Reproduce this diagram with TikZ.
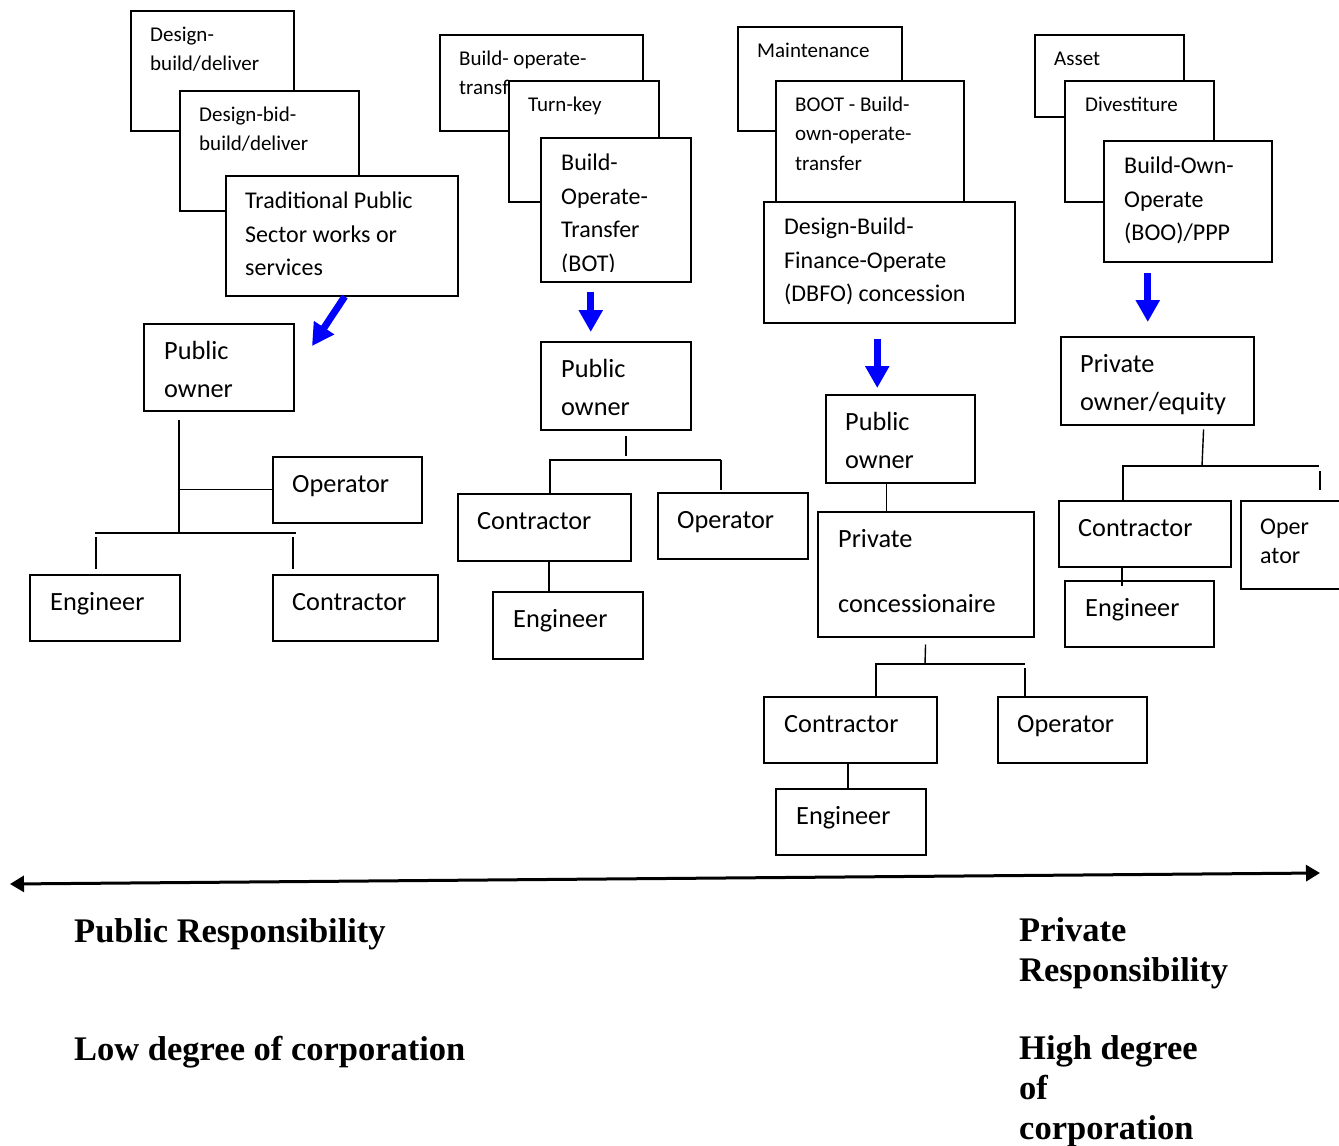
\documentclass[tikz,border=0pt]{standalone}
\usepackage{fontspec}
\setmainfont{Carlito}
\newfontfamily\timesfont{Liberation Serif}
\usetikzlibrary{positioning,arrows.meta}

\tikzset{
  box/.style={draw, fill=white, line width=1.5pt, anchor=north west, inner sep=0pt},
  sz/.style 2 args={minimum width=#1pt, minimum height=#2pt},
  tsmall/.style={inner sep=0pt, align=left, font=\fontsize{21}{29.5}\selectfont, execute at begin node=\strut},
  tmid/.style={inner sep=0pt, align=left, font=\fontsize{24}{33.5}\selectfont, execute at begin node=\strut},
  tbig/.style={inner sep=0pt, align=left, font=\fontsize{26.3}{38}\selectfont, execute at begin node=\strut},
  toper/.style={inner sep=0pt, align=left, font=\fontsize{24}{29}\selectfont, execute at begin node=\strut},
  heading/.style={inner sep=0pt, align=left, anchor=north west, font=\timesfont\bfseries\fontsize{34.5}{40}\selectfont, execute at begin node=\strut},
  link/.style={line width=1.4pt},
  bluearrow/.style={draw=blue, line width=7pt, -{Triangle[length=22pt,width=23pt]}},
}

\begin{document}
\begin{tikzpicture}[x=1pt,y=-1pt]
  \useasboundingbox (0,0) rectangle (1339,1146);

  % Traditional
  \node[box, sz={163}{120}] (dbd) at (130,10) {};
  \node[tsmall, below right=10.5pt and 20pt of dbd.north west] (dbd-t) {\strut Design-\\build/deliver};
  \node[box, sz={179}{120}] (dbb) at (179,90) {};
  \node[tsmall, below right=10.5pt and 20pt of dbb.north west] (dbb-t) {\strut Design-bid-\\build/deliver};
  \node[box, sz={232}{120}] (trad) at (225,175) {};
  \node[tmid, below right=10pt and 20pt of trad.north west] (trad-t) {\strut Traditional Public\\Sector works or\\services};

  \node[box, sz={150}{87}] (po1) at (143,323) {};
  \node[tbig, below right=9.4pt and 21pt of po1.north west] (po1-t) {\strut Public\\owner};
  \node[box, sz={149}{66}] (op1) at (272,456) {};
  \node[tbig, below right=9.4pt and 20pt of op1.north west] (op1-t) {Operator};
  \node[box, sz={150}{66}] (eng1) at (29,574) {};
  \node[tbig, below right=9.4pt and 21pt of eng1.north west] (eng1-t) {Engineer};
  \node[box, sz={165}{66}] (con1) at (272,574) {};
  \node[tbig, below right=9.4pt and 20pt of con1.north west] (con1-t) {Contractor};

  \coordinate (a1) at (312,346);
  \draw[bluearrow] ([xshift=3pt]trad.south) -- (a1);

  \coordinate (j1) at (179,533);
  \coordinate (b1l) at (95,533);
  \coordinate (b1r) at (296,533);
  \draw[link, shorten <=8pt] (po1.south -| j1) -- (j1);
  \draw[link] (op1.west -| j1) -- (op1.west);
  \draw[link] (b1l) -- (b1r);
  \draw[link, shorten <=4pt, shorten >=5pt] ([xshift=1pt]b1l) -- ([xshift=1pt]b1l |- eng1.north);
  \draw[link, shorten <=4pt, shorten >=5pt] ([xshift=-3pt]b1r) -- ([xshift=-3pt]b1r |- con1.north);

  % BOT
  \node[box, sz={203}{96}] (bot1) at (439,34) {};
  \node[tsmall, below right=10.5pt and 20pt of bot1.north west] (bot1-t) {\strut Build- operate-\\transfer};
  \node[box, sz={150}{121}] (tkey) at (508,80) {};
  \node[tsmall, below right=10.5pt and 20pt of tkey.north west] (tkey-t) {Turn-key};
  \node[box, sz={150}{144}] (bot) at (540,137) {};
  \begin{scope}
    \clip (bot.north west) rectangle ([yshift=11pt]bot.south east);
    \node[tmid, below right=10pt and 21pt of bot.north west] (bot-t) {\strut Build-\\Operate-\\Transfer\\(BOT)};
  \end{scope}

  \node[box, sz={150}{88}] (po2) at (540,341) {};
  \node[tbig, below right=9.4pt and 21pt of po2.north west] (po2-t) {\strut Public\\owner};
  \node[box, sz={173}{67}] (con2) at (457,493) {};
  \node[tbig, below right=9.4pt and 20pt of con2.north west] (con2-t) {Contractor};
  \node[box, sz={150}{66}] (op2) at (657,492) {};
  \node[tbig, below right=9.4pt and 20pt of op2.north west] (op2-t) {Operator};
  \node[box, sz={150}{67}] (eng2) at (492,591) {};
  \node[tbig, below right=9.4pt and 21pt of eng2.north west] (eng2-t) {Engineer};

  \draw[bluearrow, shorten <=9pt, shorten >=9pt] ([xshift=-25pt]bot.south) -- ([xshift=-25pt]po2.north);

  \coordinate (j2) at (626,460);
  \coordinate (b2l) at (549,460);
  \coordinate (b2r) at (721,460);
  \draw[link, shorten <=5pt, shorten >=4pt] (po2.south -| j2) -- (j2);
  \draw[link] (b2l) -- (b2r);
  \draw[link] ([xshift=1pt]b2l) -- ([xshift=1pt]b2l |- con2.north);
  \draw[link, shorten >=2pt] (b2r) -- (b2r |- op2.north);
  \draw[link] (con2.south -| b2l) -- (b2l |- eng2.north);

  % DBFO
  \node[box, sz={164}{104}] (maint) at (737,26) {};
  \node[tsmall, below right=10.5pt and 20pt of maint.north west] (maint-t) {Maintenance};
  \node[box, sz={188}{121}] (boot) at (775,80) {};
  \node[tsmall, below right=10.5pt and 20pt of boot.north west] (boot-t) {\strut BOOT - Build-\\own-operate-\\transfer};
  \node[box, sz={251}{121}] (dbfo) at (763,201) {};
  \node[tmid, below right=10pt and 21pt of dbfo.north west] (dbfo-t) {\strut Design-Build-\\Finance-Operate\\(DBFO) concession};

  \node[box, sz={149}{88}] (po3) at (825,394) {};
  \node[tbig, below right=9.4pt and 20pt of po3.north west] (po3-t) {\strut Public\\owner};
  \node[box, sz={216}{125}] (pc) at (817,511) {};
  \node[tbig, below right=9.4pt and 21pt of pc.north west] (pc-t) {\strut Private\\[27pt]concessionaire};
  \node[box, sz={173}{66}] (con3) at (763,696) {};
  \node[tbig, below right=9.4pt and 21pt of con3.north west] (con3-t) {Contractor};
  \node[box, sz={149}{66}] (op3) at (997,696) {};
  \node[tbig, below right=9.4pt and 20pt of op3.north west] (op3-t) {Operator};
  \node[box, sz={150}{66}] (eng3) at (775,788) {};
  \node[tbig, below right=9.4pt and 21pt of eng3.north west] (eng3-t) {Engineer};

  \draw[bluearrow, shorten <=15pt, shorten >=6pt] ([xshift=-12pt]dbfo.south) -- ([xshift=-23pt]po3.north);

  \coordinate (j3) at (925,664);
  \coordinate (b3l) at (875,664);
  \coordinate (b3r) at (1025,664);
  \draw[link] ([xshift=-13.5pt]po3.south) -- ([xshift=-13.5pt]po3.south |- pc.north);
  \draw[link, shorten <=7pt] (pc.south) -- (j3);
  \draw[link] (b3l) -- (b3r);
  \draw[link] ([xshift=1pt]b3l) -- ([xshift=1pt]b3l |- con3.north);
  \draw[link, shorten <=4pt] (b3r) -- (b3r |- op3.north);
  \draw[link] (con3.south -| 848,0) -- (eng3.north -| 848,0);

  % BOO / PPP
  \node[box, sz={149}{82}] (asset) at (1034,34) {};
  \node[tsmall, below right=10.5pt and 20pt of asset.north west] (asset-t) {Asset};
  \node[box, sz={149}{121}] (dives) at (1064,80) {};
  \node[tsmall, below right=10.5pt and 21pt of dives.north west] (dives-t) {Divestiture};
  \node[box, sz={168}{121}] (boo) at (1103,140) {};
  \node[tmid, below right=10pt and 21pt of boo.north west] (boo-t) {\strut Build-Own-\\Operate\\(BOO)/PPP};

  \node[box, sz={193}{88}] (po4) at (1060,336) {};
  \node[tbig, below right=9.4pt and 20pt of po4.north west] (po4-t) {\strut Private\\owner/equity};
  \node[box, sz={172}{66}] (con4) at (1058,500) {};
  \node[tbig, below right=9.4pt and 20pt of con4.north west] (con4-t) {Contractor};
  \node[box, sz={105}{88}] (op4) at (1240,500) {};
  \node[toper, below right=13.7pt and 20pt of op4.north west] (op4-t) {\strut Oper\\ator};
  \node[box, sz={149}{66}] (eng4) at (1064,580) {};
  \node[tbig, below right=9.4pt and 21pt of eng4.north west] (eng4-t) {Engineer};

  \draw[bluearrow, shorten <=10.5pt, shorten >=14pt] ([xshift=-40pt]boo.south) -- ([xshift=-9.5pt]po4.north);

  \coordinate (j4) at (1202,466);
  \coordinate (b4l) at (1122,466);
  \coordinate (b4r) at (1319,466);
  \draw[link, shorten <=4pt] ([xshift=46.5pt]po4.south) -- (j4);
  \draw[link] (b4l) -- (b4r);
  \draw[link] ([xshift=1pt]b4l) -- ([xshift=1pt]b4l |- con4.north);
  \draw[link, shorten <=5pt, shorten >=10pt] ([xshift=1pt]b4r) -- ([xshift=1pt]b4r |- op4.north);
  \draw[link] (con4.south -| b4l) -- ([yshift=-6pt]eng4.north -| b4l);

  % Responsibility scale
  \coordinate (lft) at (10,884);
  \coordinate (rgt) at (1320,873);
  \draw[line width=3pt, {Triangle[length=14pt,width=16pt]}-{Triangle[length=14pt,width=16pt]}] (lft) -- (rgt);

  \node[heading] (pubresp) at (74,914) {Public Responsibility};
  \node[heading] (lowdeg) at (74,1032) {Low degree of corporation};
  \node[heading] (privresp) at (1019,913) {\strut Private\\Responsibility};
  \node[heading] (highdeg) at (1019,1031) {\strut High degree\\of\\corporation};
\end{tikzpicture}
\end{document}
